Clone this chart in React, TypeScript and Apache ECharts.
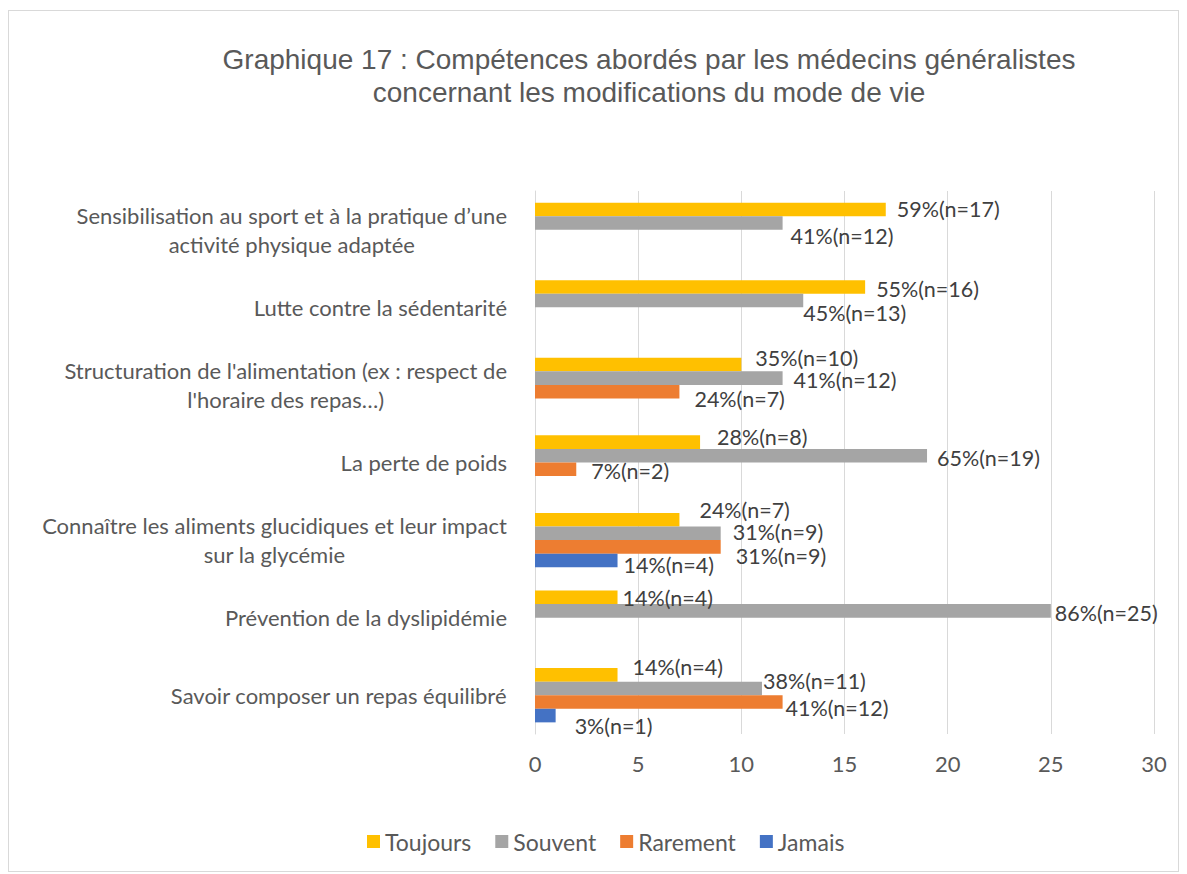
import React, { useEffect, useRef } from "react";
import * as echarts from "echarts";

const categories = [
  "Sensibilisation au sport et à la pratique d’une\nactivité physique adaptée",
  "Lutte contre la sédentarité",
  "Structuration de l'alimentation (ex : respect de\nl'horaire des repas…)",
  "La perte de poids",
  "Connaître les aliments glucidiques et leur impact\nsur la glycémie",
  "Prévention de la dyslipidémie",
  "Savoir composer un repas équilibré",
];

const seriesNames = ["Toujours", "Souvent", "Rarement", "Jamais"];

const toujours = [17, 16, 10, 8, 7, 4, 4];
const souvent = [12, 13, 12, 19, 9, 25, 11];
const rarement = [null, null, 7, 2, 9, null, 12];
const jamais = [null, null, null, null, 4, null, 1];

const toujoursPct = [59, 55, 35, 28, 24, 14, 14];
const souventPct = [41, 45, 41, 65, 31, 86, 38];
const rarementPct = [null, null, 24, 7, 31, null, 41];
const jamaisPct = [null, null, null, null, 14, null, 3];

const xTicks = { min: 0, max: 30, interval: 5 };

// label placement tweaks (layout only)
const toujoursOffsets = [[6, 0], [6, 2], [9, -7], [12, -5], [15, -10], [0, 1], [10, -8]];
const souventOffsets = [[3, 13], [-5, 12], [6, 2], [5, 2], [7, -1], [-1, 2], [-4, -7]];
const rarementOffsets = [[0, 0], [0, 0], [10, 7], [10, 2], [10, 9], [0, 0], [-2, 6]];
const jamaisOffsets = [[0, 0], [0, 0], [0, 0], [0, 0], [1, 5], [0, 0], [14, 10]];

const colors = ["#FFC000", "#A5A5A5", "#ED7D31", "#4472C4"];

const FONT = "Lato, 'Liberation Sans', sans-serif";
const TEXT = "#595959";
const FS = 22;

export default function App() {
  const ref = useRef<HTMLDivElement>(null);

  useEffect(() => {
    if (!ref.current) return;
    const chart = echarts.init(ref.current, undefined, { renderer: "svg" });
    const values = [toujours, souvent, rarement, jamais];
    const pcts = [toujoursPct, souventPct, rarementPct, jamaisPct];
    const offs = [toujoursOffsets, souventOffsets, rarementOffsets, jamaisOffsets];

    const series = seriesNames.map((name, si) => ({
      name,
      type: "bar",
      barGap: "0%",
      barCategoryGap: "30%",
      itemStyle: { color: colors[si] },
      label: {
        show: true,
        position: "right",
        distance: 5,
        color: "#404040",
        fontSize: 21.5,
        fontFamily: FONT,
        formatter: (p: any) =>
          p.value == null ? "" : `${pcts[si][p.dataIndex]}%(n=${p.value})`,
      },
      data: values[si].map((v, i) => ({
        value: v,
        label: { offset: offs[si][i] },
      })),
    }));

    chart.setOption({
      animation: false,
      color: colors,
      title: {
        text: "Graphique 17 : Compétences abordés par les médecins généralistes\nconcernant les modifications du mode de vie",
        left: 640,
        top: 32,
        textAlign: "center",
        padding: 0,
        textStyle: {
          fontFamily: "'Liberation Sans', Arial, sans-serif",
          fontSize: 28,
          fontWeight: "normal",
          color: TEXT,
          lineHeight: 33,
        },
      },
      legend: {
        data: seriesNames,
        left: 358,
        top: 819,
        padding: 0,
        icon: "rect",
        itemWidth: 13,
        itemHeight: 13,
        itemGap: 24,
        textStyle: { fontFamily: FONT, fontSize: 23, color: TEXT },
      },
      grid: { left: 526, right: 24, top: 180, bottom: 137, containLabel: false },
      xAxis: {
        type: "value",
        min: xTicks.min,
        max: xTicks.max,
        interval: xTicks.interval,
        axisLine: { show: false },
        axisTick: { show: false },
        splitLine: { lineStyle: { color: "#D9D9D9", width: 1 } },
        axisLabel: { fontFamily: FONT, fontSize: FS, color: TEXT, margin: 18 },
      },
      yAxis: {
        type: "category",
        data: categories,
        inverse: true,
        axisLine: { show: true, lineStyle: { color: "#D9D9D9" } },
        axisTick: { show: false },
        axisLabel: {
          margin: 28,
          align: "right",
          formatter: (v: string) =>
            v
              .split("\n")
              .map((l) => `{c|${l}}`)
              .join("\n"),
          rich: {
            c: {
              align: "center",
              fontFamily: FONT,
              fontSize: FS,
              lineHeight: 29,
              color: TEXT,
            },
          },
        },
      },
      series,
    });
    return () => chart.dispose();
  }, []);

  return (
    <div
      style={{
        width: 1171,
        height: 862,
        marginTop: 2,
        border: "1px solid #D9D9D9",
        boxSizing: "border-box",
      }}
    >
      <div ref={ref} style={{ width: 1169, height: 860 }} />
    </div>
  );
}
